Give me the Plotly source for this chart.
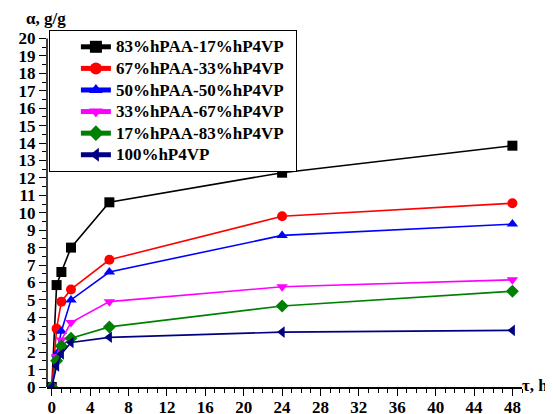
import plotly.graph_objects as go

time_h = [0, 0.5, 1, 2, 6, 24, 48]
names = ["83%hPAA-17%hP4VP", "67%hPAA-33%hP4VP", "50%hPAA-50%hP4VP",
         "33%hPAA-67%hP4VP", "17%hPAA-83%hP4VP", "100%hP4VP"]
s83 = [0, 5.85, 6.6, 8.0, 10.6, 12.3, 13.85]
s67 = [0, 3.35, 4.9, 5.6, 7.3, 9.8, 10.55]
s50 = [0, 1.9, 3.2, 5.0, 6.6, 8.7, 9.35]
s33 = [0, 1.75, 2.7, 3.7, 4.9, 5.75, 6.15]
s17 = [0, 1.5, 2.35, 2.8, 3.45, 4.65, 5.5]
s0 = [0, 1.2, 1.9, 2.55, 2.85, 3.15, 3.25]
series = [s83, s67, s50, s33, s17, s0]
colors = ["#000000", "#FF0000", "#0000FF", "#FF00FF", "#008000", "#000080"]
symbols = ["square", "circle", "triangle-up", "triangle-down", "diamond", "triangle-left"]

FAM = "Liberation Serif"
FS = 17

fig = go.Figure()
for n, s, c, m in zip(names, series, colors, symbols):
    fig.add_trace(go.Scatter(x=time_h, y=s,
                             name='<span style="font-size:17px"><b>' + n + '</b></span>&nbsp;&nbsp;',
                             mode="lines+markers",
                             line=dict(color=c, width=1.6),
                             marker=dict(symbol=m, size=10, color=c, line=dict(width=0))))

tickfont = dict(family=FAM, size=FS, color="black", weight="bold")
fig.update_layout(
    width=545, height=406,
    margin=dict(l=39, r=31, t=22, b=27, autoexpand=False),
    plot_bgcolor="white", paper_bgcolor="white",
    font=dict(family=FAM, size=FS, color="black"),
    showlegend=True,
    legend=dict(x=0.004, y=1.0, xanchor="left", yanchor="top",
                bordercolor="black", borderwidth=1, bgcolor="white",
                font=dict(family=FAM, size=14.3, color="black"),
                indentation=26,
                tracegroupgap=0, itemsizing="constant"),
    xaxis=dict(range=[-0.5, 49], tickmode="linear", tick0=0, dtick=4,
               ticks="outside", ticklen=7, tickwidth=1.3, tickcolor="black",
               minor=dict(ticks="outside", ticklen=4, dtick=1, tick0=0, tickcolor="black", tickwidth=1.3),
               showline=True, linecolor="black", linewidth=1.5, showgrid=False, zeroline=False,
               automargin=False, tickfont=tickfont, ticklabelstandoff=-3),
    yaxis=dict(range=[0, 20.49], tickmode="linear", tick0=0, dtick=1,
               ticks="outside", ticklen=7, tickwidth=1.3, tickcolor="black",
               minor=dict(ticks="outside", ticklen=4, dtick=0.5, tick0=0, tickcolor="black", tickwidth=1.3),
               showline=False, showgrid=False, zeroline=False,
               automargin=False, tickfont=tickfont),
    shapes=[dict(type="line", xref="paper", yref="y", x0=0, x1=0, y0=0, y1=20,
                 line=dict(color="black", width=1.5))],
    annotations=[
        dict(text="<b>α, g/g</b>", xref="paper", yref="paper", x=-0.048, y=1.0,
             xanchor="left", yanchor="bottom", yshift=0, showarrow=False,
             font=dict(family=FAM, size=FS, color="black")),
        dict(text="<b>τ, h</b>", xref="paper", yref="paper", x=1.0, y=0,
             xanchor="left", yanchor="middle", xshift=-2, yshift=2, showarrow=False,
             font=dict(family=FAM, size=FS, color="black")),
    ],
)

fig.write_html("out.html")
